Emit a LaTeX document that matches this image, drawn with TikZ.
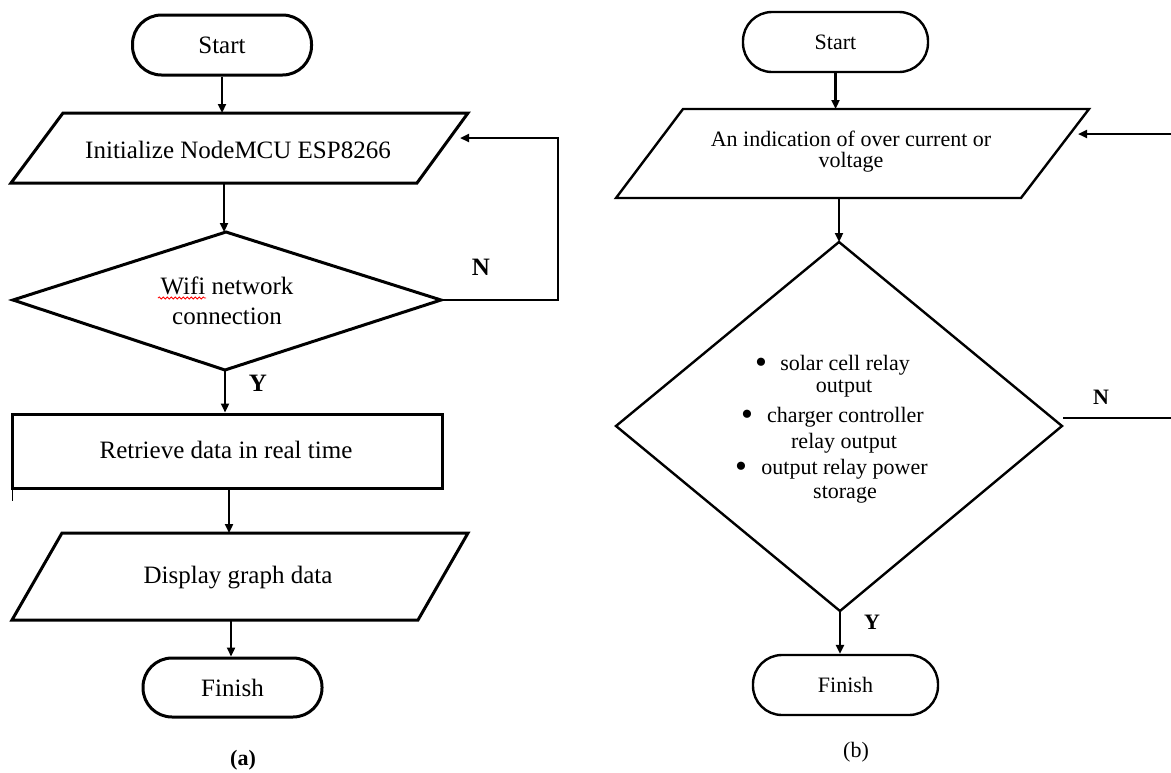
\documentclass[tikz,border=0pt]{standalone}
\usepackage{fontspec}
\setmainfont{Liberation Serif}
\usetikzlibrary{arrows.meta,decorations.pathmorphing}
\begin{document}
\begin{tikzpicture}[x=1pt,y=-1pt,
  fa/.style={font=\fontsize{25}{30}\selectfont, align=center, inner sep=0pt},
  fb/.style={font=\fontsize{22}{21}\selectfont, align=center, inner sep=0pt},
  bul/.style={font=\fontsize{34}{34}\selectfont, inner sep=0pt},
  shpa/.style={draw, line width=3pt, line join=miter},
  shpb/.style={draw, line width=2.4pt, line join=miter},
  terma/.style={draw, rectangle, rounded corners=29pt, line width=3pt, inner sep=0pt, fa},
  termb/.style={draw, rectangle, rounded corners=29pt, line width=2.4pt, inner sep=0pt, fb},
  arr/.style={-{Triangle[length=9pt,width=8pt]}, line width=2.5pt},
  arrb/.style={-{Triangle[length=9pt,width=8pt]}, line width=2.2pt},
  lbla/.style={font=\bfseries\fontsize{25}{25}\selectfont, inner sep=0pt},
  lblb/.style={font=\bfseries\fontsize{22}{22}\selectfont, inner sep=0pt}]
\useasboundingbox (0,0) rectangle (1171,772);

% ---------------- (a) ----------------
\node[terma, minimum width=179pt, minimum height=60pt] (sa) at (222,45) {Start};

\draw[shpa] (63,113) -- (468,113) -- (417,183) -- (11,183) -- cycle;
\node[fa] (pa1) at (238,150) {Initialize NodeMCU ESP8266};
\coordinate (pa1t) at (222,113);
\coordinate (pa1b) at (224,183);

\draw[shpa] (226,232) -- (441,300) -- (225,370) -- (13,300) -- cycle;
\node[fa] (da) at (227,301) {Wifi network\\connection};
\draw[red, line width=0.8pt, decorate, decoration={snake, amplitude=1.1pt, segment length=4pt}] (158,298) -- (206,298);
\coordinate (dat) at (224,232);
\coordinate (dab) at (225,370);
\coordinate (dar) at (441,300);
\coordinate (loopbr) at (558,300);
\coordinate (looptr) at (558,138);
\coordinate (loopend) at (460,138);

\node[shpa, rectangle, minimum width=430pt, minimum height=74pt, inner sep=0pt] (ra) at (227,451) {};
\node[fa] (rat) at (226,450) {Retrieve data in real time};
\draw[line width=1pt] (12,488) -- (12,501);

\draw[shpa] (62,533) -- (468,533) -- (418,620) -- (12,620) -- cycle;
\node[fa] (pa2) at (238,578) {Display graph data};
\coordinate (pa2t) at (229,533);
\coordinate (pa2b) at (231,620);

\node[terma, minimum width=179pt, minimum height=59pt] (fa) at (232.5,687.5) {Finish};

\draw[arr] (sa.south) -- (pa1t);
\draw[arr] (pa1b) -- (dat);
\draw[arr] (dab) -- (dab |- ra.north);
\draw[arr] (ra.south -| pa2t) -- (pa2t);
\draw[arr] (pa2b) -- (fa.north -| pa2b);
\draw[arr, line width=2.8pt] (dar) -- (loopbr) -- (looptr) -- (loopend);

\node[lbla] (na) at (481,267) {N};
\node[lbla] (ya) at (258,383) {Y};
\node[font=\bfseries\fontsize{22}{22}\selectfont] (capa) at (243,760) {(a)};

% ---------------- (b) ----------------
\node[termb, minimum width=185pt, minimum height=60pt] (sb) at (835.5,42) {Start};

\draw[shpb] (683,109) -- (1089,109) -- (1021,198) -- (616,198) -- cycle;
\node[fb] (pb) at (851,152) {An indication of over current or\\voltage};
\coordinate (pbt) at (835.5,109);
\coordinate (pbb) at (839,198);
\coordinate (rin) at (1171,134);
\coordinate (rinend) at (1078,134);

\draw[shpb] (839,242) -- (1062,426) -- (840,611) -- (616,426) -- cycle;
\coordinate (dbt) at (839,242);
\coordinate (dbb) at (840,611);
\coordinate (dbr) at (1063,418);
\coordinate (rout) at (1171,418);

\node[fb] (b1) at (845,365) {solar cell relay};
\node[bul] (b1d) at (761,366) {\textbullet};
\node[fb] (b1b) at (844,389) {output};
\node[fb] (b2) at (845.5,417) {charger controller};
\node[bul] (b2d) at (747,418) {\textbullet};
\node[fb] (b2b) at (844,443) {relay output};
\node[fb] (b3) at (844.5,469) {output relay power};
\node[bul] (b3d) at (741,470) {\textbullet};
\node[fb] (b3b) at (845,495) {storage};

\node[termb, minimum width=185pt, minimum height=60pt] (fb) at (845.5,685) {Finish};

\draw[arrb] (sb.south) -- (pbt);
\draw[arrb] (pbb) -- (dbt);
\draw[arrb] (dbb) -- (fb.north -| dbb);
\draw[arrb] (rin) -- (rinend);
\draw[line width=2.4pt] (dbr) -- (rout);

\node[lblb] (nb) at (1101,397) {N};
\node[lblb] (yb) at (872,622) {Y};
\node[font=\fontsize{22}{22}\selectfont] (capb) at (856,752) {(b)};
\end{tikzpicture}
\end{document}
